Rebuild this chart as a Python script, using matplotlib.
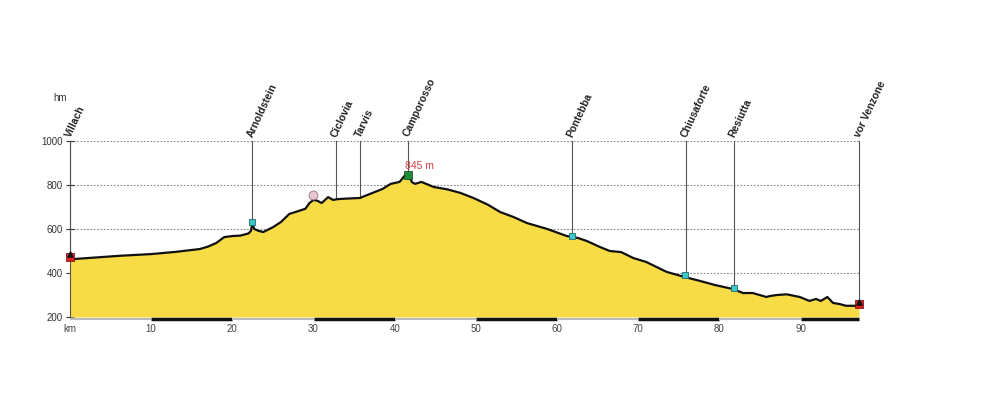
import matplotlib.pyplot as plt

plt.rcParams['font.family'] = ['Liberation Sans', 'DejaVu Sans']

# Elevation profile (km, m)
KM = [0, 0.3, 3, 6, 10, 13, 16, 17, 18, 19, 20, 21, 22, 22.3, 22.45, 22.7, 23.2, 23.8,
      25, 26, 27, 28, 29, 29.5, 30, 30.5, 31, 31.8, 32.4, 33, 34, 35.7, 37, 38.5, 39.5,
      40.6, 41.3, 41.8, 42.1, 42.5, 43.3, 44.8, 46.5, 48.1, 49.7, 51.5, 53, 54.6, 56.3,
      58.8, 61.2, 62.6, 63.7, 65.3, 66.5, 67.9, 69.4, 71, 73.5, 75.7, 77.6, 79.5, 81.7,
      82.9, 84.1, 85.8, 86.2, 87.1, 88.3, 89.9, 91.1, 91.9, 92.5, 93.3, 94, 94.8, 95.6,
      97.2]
ELEV = [473, 463, 470, 478, 486, 496, 509, 520, 536, 563, 568, 570, 580, 592, 625, 600,
        592, 586, 608, 632, 668, 680, 692, 718, 732, 728, 718, 745, 732, 736, 738, 741,
        760, 782, 805, 814, 845, 840, 814, 805, 814, 791, 780, 764, 741, 710, 677, 655,
        627, 600, 568, 559, 545, 518, 500, 495, 468, 450, 405, 382, 364, 345, 327, 309,
        309, 291, 295, 300, 303, 291, 273, 282, 273, 291, 264, 259, 251, 251]

# Places along the route
PLACES = ['Villach', 'Arnoldstein', 'Ciclovia', 'Tarvis', 'Camporosso', 'Pontebba',
          'Chiusaforte', 'Resiutta', 'vor Venzone']
PLACE_KM = [0, 22.4, 32.8, 35.7, 41.7, 61.8, 75.9, 81.8, 97.2]
PLACE_ELEV = [473, 625, 736, 741, 845, 568, 385, 330, 251]

# Markers
INFO_KM = [22.4, 61.9, 75.8, 81.8]
INFO_ELEV = [630, 570, 392, 333]
START_END_KM = [0, 97.2]
START_END_ELEV = [475, 257]
PEAK_KM = 41.6
PEAK_ELEV = 845
CAFE_KM = 29.9
CAFE_ELEV = 755

YTICKS = [200, 400, 600, 800, 1000]
XTICKS = [0, 10, 20, 30, 40, 50, 60, 70, 80, 90]
XTICK_LABELS = ['km', '10', '20', '30', '40', '50', '60', '70', '80', '90']

KM_MAX = 97.2

fig = plt.figure(figsize=(10, 4), dpi=100)
ax = fig.add_axes([0.07, 0.2075, 0.789, 0.44])
ax.set_xlim(0, KM_MAX)
ax.set_ylim(200, 1000)

# dotted grid behind the profile
for y in YTICKS[1:]:
    ax.axhline(y, color='#888888', lw=0.8, ls=(0, (1.5, 1.5)), zorder=1)

ax.fill_between(KM, ELEV, 200, color='#F7DC45', zorder=2, lw=0)
ax.plot(KM, ELEV, color='#111111', lw=1.6, zorder=3, solid_joinstyle='round')

# place lines and labels
for name, k, e in zip(PLACES, PLACE_KM, PLACE_ELEV):
    ax.plot([k, k], [e, 1000], color='#555555', lw=0.8, zorder=2.5, clip_on=False)
    ax.text(k + 0.3, 1012, name, rotation=65, rotation_mode='anchor', ha='left',
            va='bottom', fontsize=7.5, fontweight='bold', color='#222222')

# markers
ax.scatter(INFO_KM, INFO_ELEV, marker='s', s=18, color='#3EC6C8', edgecolor='#1d6f70',
           lw=0.6, zorder=5)
ax.scatter(START_END_KM, START_END_ELEV, marker='s', s=26, color='#E02020',
           edgecolor='#700000', lw=0.5, zorder=5, clip_on=False)
ax.scatter(START_END_KM, [v + 12 for v in START_END_ELEV], marker='^', s=14,
           color='#111111', zorder=6, clip_on=False)
ax.scatter([PEAK_KM], [PEAK_ELEV], marker='s', s=26, color='#1E8C3A',
           edgecolor='#0b3d18', lw=0.5, zorder=5)
ax.scatter([CAFE_KM], [CAFE_ELEV], marker='o', s=40, color='#E8C8D0',
           edgecolor='#a07080', lw=0.6, zorder=5)
ax.text(PEAK_KM - 0.3, PEAK_ELEV + 18, f'{PEAK_ELEV} m', color='#D04040', fontsize=7.5,
        ha='left', va='bottom', zorder=6)

# km scale bar under the axis
for i in range(10):
    x0 = i * 10
    x1 = min((i + 1) * 10, KM_MAX)
    c = '#111111' if i % 2 == 1 else '#BBBBBB'
    ax.plot([x0, x1], [193, 193], color=c, lw=2.5 if i % 2 == 1 else 1.5,
            solid_capstyle='butt', clip_on=False, zorder=4)

ax.set_yticks(YTICKS)
ax.set_xticks(XTICKS)
ax.set_xticklabels(XTICK_LABELS)
ax.tick_params(axis='x', length=0, labelsize=7, labelcolor='#444444', pad=5)
ax.tick_params(axis='y', direction='inout', length=6, width=0.8, color='#333333',
               labelsize=7, labelcolor='#333333', pad=2)

for side in ['top', 'right', 'bottom']:
    ax.spines[side].set_visible(False)
ax.spines['left'].set_color('#555555')
ax.spines['left'].set_linewidth(0.8)

fig.text(0.053, 0.755, 'hm', fontsize=7, color='#333333', ha='left', va='center')

fig.savefig('out.png', dpi=100)
